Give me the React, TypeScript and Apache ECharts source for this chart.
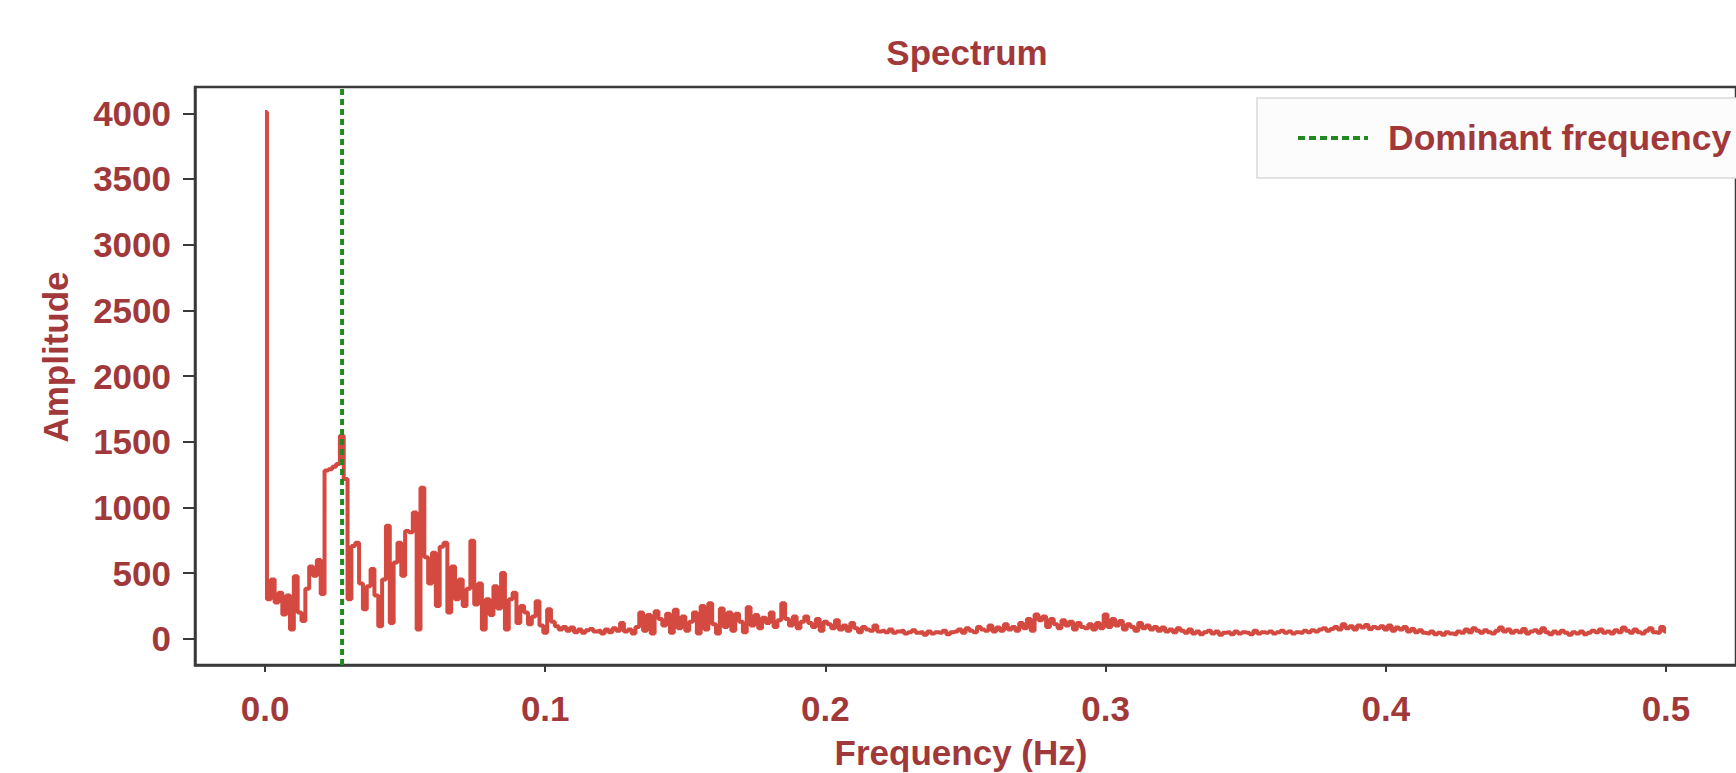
import React, { useEffect, useRef } from "react";
import * as echarts from "echarts";

const SAMPLE_DENOM = 730;
const DOMINANT_FREQ = 0.0275;

const ampLow = [
  4010, 300, 450, 275, 350, 185, 330, 70, 475, 200,
  135, 380, 550, 480, 600, 340, 1280, 1290, 1310, 1330,
  1545, 1215, 300, 705, 730, 420, 225, 400, 530, 330,
  95, 450, 860, 120, 580, 730, 480, 820, 810, 960,
  70, 1150, 620, 420, 655, 250, 700, 730, 200, 550,
  300, 450, 250, 380, 745, 260, 420, 70, 300, 180,
  400, 230, 500, 70, 300, 350, 120, 250, 200, 110,
  170, 285, 100, 45, 225, 130, 95, 70, 90,
];
const ampQuiet = [60, 85, 50, 70, 45, 65, 75, 55, 60, 40, 70, 50, 80, 60, 120, 55, 70, 40, 90];
const ampBumpA = [
  200, 60, 180, 40, 210, 150, 100, 190, 45, 220,
  80, 170, 60, 130, 200, 40, 250, 70, 270, 110,
  40, 230, 90, 200, 60, 190, 130, 50, 240, 100,
  180, 80, 160, 120, 200, 90, 140, 270, 150, 100,
  170, 80, 130,
];
const ampDecay = [170, 120, 90, 150, 60, 130, 110, 80, 140, 70, 100, 60, 120, 80, 50, 90, 70, 60, 100, 55];
const ampFlat = [
  60, 50, 70, 45, 55, 60, 40, 50, 65, 45,
  50, 30, 55, 40, 50, 45, 60, 35, 50, 55,
  70, 45, 80, 60, 50, 90, 70, 60, 100, 55,
  85, 60, 110, 70, 90,
];
const ampBumpB = [
  60, 120, 80, 150, 60, 185, 140, 170, 90, 150,
  110, 80, 140, 100, 130, 70, 120, 90, 80, 110,
  70, 120, 80, 185, 90, 150, 100, 135, 70, 110,
];
const ampMid = [
  90, 60, 120, 80, 100, 70, 90, 60, 85, 55,
  70, 50, 80, 60, 45, 70, 40, 55, 35, 50,
  60, 40, 55, 30, 45, 50, 35, 55, 40, 50,
  45, 35, 60, 40, 50,
];
const ampBumpC = [
  45, 55, 40, 50, 60, 45, 55, 40, 50, 45,
  60, 50, 65, 55, 70, 80, 60, 75, 90, 70,
  110, 80, 95, 70, 100, 85, 105, 75, 90, 80,
  95, 70, 100, 60, 85, 70, 90, 55, 75, 50,
  65, 45, 40, 55, 35, 45, 30, 50, 40, 35,
];
const ampHigh = [
  55, 45, 70, 50, 80, 60, 45, 65, 50, 40,
  60, 85, 55, 70, 45, 60, 50, 75, 40, 55,
  65, 45, 80, 50, 35, 55, 40, 60, 45, 30,
  50, 40, 55, 35, 45, 60, 50, 70, 45, 55,
  40, 65, 50, 85, 60, 45, 70, 50, 40, 60,
  80, 50, 45, 90, 55,
];

const amplitudes = [
  ...ampLow, ...ampQuiet, ...ampBumpA, ...ampDecay, ...ampFlat,
  ...ampBumpB, ...ampMid, ...ampBumpC, ...ampHigh,
];

const X_TICKS = [0, 0.1, 0.2, 0.3, 0.4, 0.5];
const Y_TICKS = [0, 500, 1000, 1500, 2000, 2500, 3000, 3500, 4000];

const TEXT = "#a1393b";
const RED = "#d44a40";
const GREEN = "#21891f";
const AXIS = "#3a3a3a";
const FONT = "'Liberation Sans', Arial, sans-serif";

export default function App() {
  const ref = useRef<HTMLDivElement>(null);

  useEffect(() => {
    if (!ref.current) return;
    const chart = echarts.init(ref.current, null, { renderer: "svg" });
    const spectrum = amplitudes.map((a, i) => [i / SAMPLE_DENOM, a]);

    chart.setOption({
      animation: false,
      backgroundColor: "#ffffff",
      textStyle: { fontFamily: FONT },
      title: {
        text: "Spectrum",
        left: 962,
        top: 30,
        textAlign: "center",
        textStyle: { color: TEXT, fontSize: 35, fontWeight: "bold", fontFamily: FONT },
      },
      grid: {
        left: 195,
        top: 87,
        width: 1555,
        height: 578,
        show: true,
        borderColor: AXIS,
        borderWidth: 2.5,
        backgroundColor: "#ffffff",
      },
      legend: {
        data: ["Dominant frequency"],
        left: 1257,
        top: 98,
        padding: [22, 30, 22, 39],
        itemWidth: 70,
        itemHeight: 14,
        backgroundColor: "#fdfcfc",
        borderColor: "#d9d9d9",
        borderWidth: 1.5,
        lineStyle: { color: GREEN, width: 4, type: [7, 4] },
        itemStyle: { opacity: 0, borderWidth: 0 },
        textStyle: {
          color: TEXT,
          fontSize: 35.5,
          fontWeight: "bold",
          fontFamily: FONT,
          padding: [0, 0, 0, 15],
        },
      },
      xAxis: {
        type: "value",
        min: -0.025,
        max: 0.525,
        axisLine: { onZero: false, lineStyle: { color: AXIS, width: 2.5 } },
        axisTick: { customValues: X_TICKS, length: 7, lineStyle: { color: AXIS, width: 2 } },
        axisLabel: {
          customValues: X_TICKS,
          formatter: (v: number) => v.toFixed(1),
          margin: 26,
          color: TEXT,
          fontSize: 35,
          fontWeight: "bold",
          fontFamily: FONT,
        },
        splitLine: { show: false },
      },
      yAxis: {
        type: "value",
        min: -200,
        max: 4200,
        axisLine: { show: true, onZero: false, lineStyle: { color: AXIS, width: 2.5 } },
        axisTick: { show: true, customValues: Y_TICKS, length: 12, lineStyle: { color: AXIS, width: 2 } },
        axisLabel: {
          customValues: Y_TICKS,
          formatter: (v: number) => String(v),
          margin: 24,
          color: TEXT,
          fontSize: 35,
          fontWeight: "bold",
          fontFamily: FONT,
        },
        splitLine: { show: false },
      },
      graphic: [
        {
          type: "text",
          x: 55,
          y: 357,
          rotation: Math.PI / 2,
          style: {
            text: "Amplitude",
            fill: TEXT,
            font: `bold 35px ${FONT}`,
            align: "center",
            verticalAlign: "middle",
          },
        },
        {
          type: "text",
          x: 961,
          y: 752,
          style: {
            text: "Frequency (Hz)",
            fill: TEXT,
            font: `bold 35px ${FONT}`,
            align: "center",
            verticalAlign: "middle",
          },
        },
      ],
      series: [
        {
          name: "Spectrum",
          type: "line",
          data: spectrum,
          step: "middle",
          showSymbol: false,
          symbol: "none",
          lineStyle: { color: RED, width: 4 },
          itemStyle: { color: RED },
          z: 2,
        },
        {
          name: "Dominant frequency",
          type: "line",
          data: [
            [DOMINANT_FREQ, -200],
            [DOMINANT_FREQ, 4200],
          ],
          showSymbol: false,
          symbol: "none",
          lineStyle: { color: GREEN, width: 4, type: [6, 4] },
          itemStyle: { color: GREEN },
          z: 3,
        },
      ],
    });

    return () => chart.dispose();
  }, []);

  return (
    <div
      ref={ref}
      style={{ position: "fixed", left: 0, top: 0, width: 1736, height: 773, background: "#fff" }}
    />
  );
}
